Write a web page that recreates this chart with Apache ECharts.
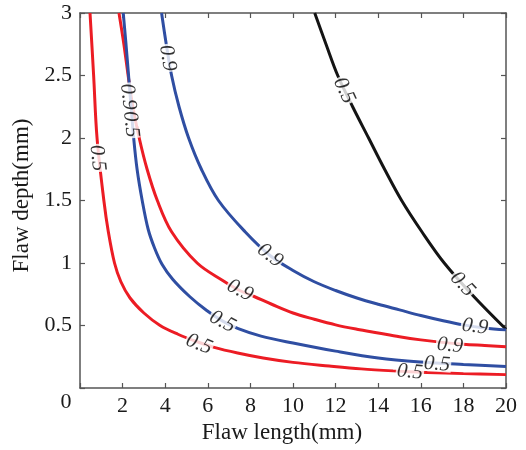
<!DOCTYPE html>
<html>
<head>
<meta charset="utf-8">
<script src="https://cdn.jsdelivr.net/npm/echarts@6/dist/echarts.min.js"></script>
<style>
  html, body { margin: 0; padding: 0; background: #fff; }
  #chart { width: 526px; height: 450px; }
</style>
</head>
<body>
<div id="chart"></div>
<script>
// Contour levels (probability values)
const levelLow = 0.5;
const levelHigh = 0.9;

// Contour lines: [flaw length (mm), flaw depth (mm)]
const red05 = [[0.47,3.0],[0.64,2.5],[0.80,2.0],[1.12,1.5],[1.33,1.25],[1.62,1.0],[1.92,0.85],[2.35,0.72],[3.0,0.60],[3.76,0.50],[4.6,0.43],[5.5,0.37],[6.3,0.325],[7.4,0.28],[8.6,0.24],[10,0.205],[11.7,0.176],[13.2,0.153],[14.7,0.137],[16.3,0.124],[18,0.115],[20,0.107]];
const red09 = [[1.83,3.0],[2.06,2.75],[2.26,2.5],[2.48,2.25],[2.78,2.0],[3.15,1.75],[3.63,1.5],[4.3,1.25],[5.5,1.0],[6.7,0.86],[7.5,0.78],[8.2,0.73],[9,0.67],[10,0.60],[11,0.55],[12,0.505],[13,0.47],[14,0.44],[15,0.41],[16,0.385],[17,0.365],[18,0.35],[19,0.34],[20,0.33]];
const blue05 = [[2.03,3.0],[2.16,2.75],[2.28,2.5],[2.40,2.25],[2.52,2.0],[2.68,1.75],[2.92,1.5],[3.2,1.27],[3.5,1.12],[3.85,0.99],[4.35,0.87],[5.16,0.73],[5.95,0.62],[6.7,0.535],[7.43,0.475],[8.5,0.415],[10,0.36],[12,0.295],[14,0.24],[16,0.208],[18,0.188],[20,0.172]];
const blue09 = [[3.83,3.0],[4.05,2.75],[4.30,2.5],[4.65,2.25],[5.1,2.0],[5.7,1.75],[6.5,1.5],[7.75,1.25],[8.92,1.06],[10,0.94],[11,0.85],[12,0.78],[13,0.72],[14,0.67],[15,0.625],[16,0.58],[17,0.54],[18,0.505],[19,0.48],[20,0.465]];
const black05 = [[11.02,3.0],[11.55,2.75],[12.1,2.5],[12.8,2.25],[13.55,2.0],[14.3,1.75],[15.1,1.5],[16.05,1.25],[17.1,1.0],[18.5,0.73],[20,0.47]];

// In-line contour labels: anchor points [length, depth] and text angles (deg)
const red05Labels = [[0.82,1.84],[5.59,0.35],[15.49,0.128]];
const red05Angles = [-84,-22,-5];
const red09Labels = [[2.25,2.33],[7.51,0.78],[17.37,0.34]];
const red09Angles = [-84,-28,-5];
const blue05Labels = [[2.39,2.11],[6.69,0.53],[16.76,0.19]];
const blue05Angles = [-84,-28,-4];
const blue09Labels = [[4.11,2.64],[8.92,1.06],[18.54,0.49]];
const blue09Angles = [-81,-38,-8];
const black05Labels = [[12.4,2.38],[17.96,0.83]];
const black05Angles = [-65,-47];

const SERIF = '"Liberation Serif", "Times New Roman", serif';
const RED = '#ec1c24';
const BLUE = '#2f4ea2';
const BLACK = '#141414';
const AXIS = '#555';
const TEXT = '#1a1a1a';

function contour(name, pts, color) {
  return {
    name, type: 'line', data: pts, smooth: 0.35, symbol: 'none',
    lineStyle: { color, width: 3 }, clip: true, z: 2, silent: true
  };
}

function labels(name, anchors, angles, level) {
  return {
    name: name + ' labels', type: 'scatter', symbolSize: 1,
    itemStyle: { color: 'rgba(0,0,0,0)' }, z: 5, silent: true,
    data: anchors.map((p, i) => ({ value: p, label: { rotate: angles[i] } })),
    label: {
      show: true, position: 'inside', formatter: () => level.toFixed(1),
      fontFamily: SERIF, fontStyle: 'italic', fontSize: 21, color: '#000',
      backgroundColor: '#fff', padding: [0, 1], lineHeight: 15
    }
  };
}

const axisBase = {
  type: 'value',
  axisLine: { show: true, onZero: false, lineStyle: { color: AXIS, width: 1.5 } },
  axisTick: { show: true, inside: true, length: 5, lineStyle: { color: AXIS, width: 1.2 } },
  splitLine: { show: false }
};
const tickFont = { fontFamily: SERIF, fontSize: 22, color: TEXT };

const chart = echarts.init(document.getElementById('chart'), null, { renderer: 'canvas' });
chart.setOption({
  animation: false,
  backgroundColor: '#fff',
  grid: { left: 80, right: 20, top: 13, bottom: 62 },
  xAxis: [
    Object.assign({}, axisBase, {
      min: 0, max: 20, interval: 2, position: 'bottom',
      axisLabel: Object.assign({ margin: 7, formatter: v => v === 0 ? '' : String(v) }, tickFont),
      name: 'Flaw length(mm)', nameLocation: 'middle', nameGap: 32,
      nameTextStyle: { fontFamily: SERIF, fontSize: 23, color: TEXT, padding: [0, 22, 0, 0] }
    }),
    Object.assign({}, axisBase, {
      min: 0, max: 20, interval: 2, position: 'top', axisLabel: { show: false }
    })
  ],
  yAxis: [
    Object.assign({}, axisBase, {
      min: 0, max: 3, interval: 0.5, position: 'left',
      axisLabel: Object.assign({ margin: 8, formatter: v => v === 0 ? '' : String(v) }, tickFont),
      name: 'Flaw depth(mm)', nameLocation: 'middle', nameGap: 42,
      nameTextStyle: { fontFamily: SERIF, fontSize: 23, color: TEXT, padding: [0, 0, 0, 10] }
    }),
    Object.assign({}, axisBase, {
      min: 0, max: 3, interval: 0.5, position: 'right', axisLabel: { show: false }
    })
  ],
  graphic: [{
    type: 'text', x: 66, y: 402, silent: true,
    style: { text: '0', font: '22px "Liberation Serif"', fill: TEXT, align: 'center', verticalAlign: 'middle' }
  }],
  series: [
    contour('black 0.5', black05, BLACK),
    contour('red 0.5', red05, RED),
    contour('red 0.9', red09, RED),
    contour('blue 0.5', blue05, BLUE),
    contour('blue 0.9', blue09, BLUE),
    labels('black 0.5', black05Labels, black05Angles, levelLow),
    labels('red 0.5', red05Labels, red05Angles, levelLow),
    labels('red 0.9', red09Labels, red09Angles, levelHigh),
    labels('blue 0.5', blue05Labels, blue05Angles, levelLow),
    labels('blue 0.9', blue09Labels, blue09Angles, levelHigh)
  ]
});
</script>
</body>
</html>
